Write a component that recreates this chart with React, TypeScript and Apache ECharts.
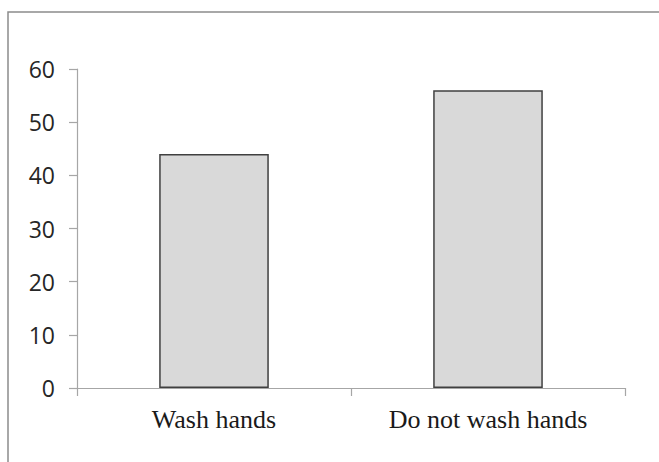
import React, { useEffect, useRef } from "react";
import * as echarts from "echarts";

const categories = ["Wash hands", "Do not wash hands"];
const values = [44, 56];
const yMin = 0;
const yMax = 60;
const yInterval = 10;

export default function App() {
  const ref = useRef<HTMLDivElement>(null);
  useEffect(() => {
    if (!ref.current) return;
    const chart = echarts.init(ref.current, undefined, { renderer: "svg" });
    chart.setOption({
      animation: false,
      backgroundColor: "#ffffff",
      grid: { left: 77, right: 34, top: 69, bottom: 74, containLabel: false },
      graphic: [
        {
          type: "rect",
          shape: { x: 8, y: 12, width: 700, height: 500 },
          style: { fill: "none", stroke: "#8c8c8c", lineWidth: 1.5 },
          silent: true,
        },
      ],
      xAxis: {
        type: "category",
        data: categories,
        axisLine: { show: true, lineStyle: { color: "#a6a6a6", width: 1.2 } },
        axisTick: { show: true, length: 8, lineStyle: { color: "#a6a6a6", width: 1.2 } },
        axisLabel: {
          fontFamily: "Liberation Serif",
          fontSize: 26,
          color: "#1a1a1a",
          margin: 18,
        },
        splitLine: { show: false },
      },
      yAxis: {
        type: "value",
        min: yMin,
        max: yMax,
        interval: yInterval,
        axisLine: { show: true, lineStyle: { color: "#a6a6a6", width: 1.2 } },
        axisTick: { show: true, length: 8, lineStyle: { color: "#a6a6a6", width: 1.2 } },
        axisLabel: {
          fontFamily: "Open Sans",
          fontSize: 23,
          color: "#262626",
          margin: 22,
        },
        splitLine: { show: false },
      },
      series: [
        {
          type: "bar",
          data: values,
          barWidth: "40%",
          itemStyle: { color: "#d9d9d9", borderColor: "#404040", borderWidth: 1.5 },
        },
      ],
    });
    return () => chart.dispose();
  }, []);
  return (
    <div
      ref={ref}
      style={{ position: "absolute", left: 0, top: 0, width: 659, height: 462 }}
    />
  );
}
